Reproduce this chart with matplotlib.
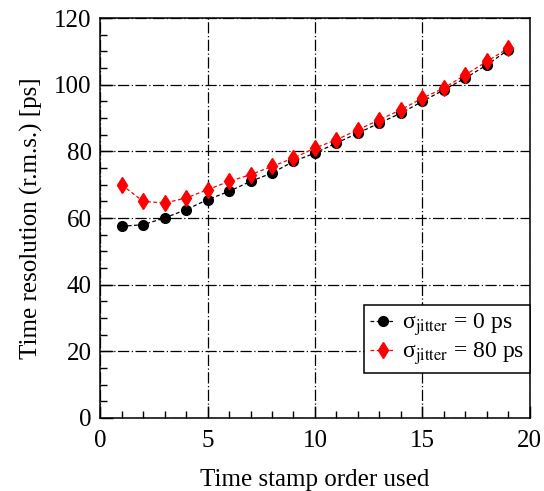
import matplotlib
matplotlib.use("Agg")
import matplotlib.pyplot as plt
from matplotlib.ticker import MultipleLocator

order = [1, 2, 3, 4, 5, 6, 7, 8, 9, 10, 11, 12, 13, 14, 15, 16, 17, 18, 19]
res_0ps = [57.5, 58, 60, 62.5, 65.5, 68, 71, 73.5, 77, 79.5, 82.5, 85.5, 88.5, 91.5, 95, 98.5, 102, 106, 110.5]
res_80ps = [70, 65, 64.5, 66, 68.5, 71, 73, 75.5, 78, 81, 83.5, 86.5, 89.5, 92.5, 96, 99, 103, 107, 111]
labels = ["σ$_{\\rm jitter}$ = 0 ps", "σ$_{\\rm jitter}$ = 80 ps"]

plt.rcParams['font.family'] = ['Liberation Serif', 'DejaVu Serif']
plt.rcParams['mathtext.fontset'] = 'stix'

fig = plt.figure(figsize=(5.44, 4.91), dpi=100)
ax = fig.add_axes([0.184, 0.149, 0.790, 0.814])

ax.plot(order, res_0ps, linestyle=(0, (3, 2)), color='black', lw=0.9,
        marker='o', markersize=7, label=labels[0], zorder=3)
ax.plot(order, res_80ps, linestyle=(0, (3, 2)), color='red', lw=0.9,
        marker='d', markersize=8, label=labels[1], zorder=4)

ax.set_xlim(0, 20)
ax.set_ylim(0, 120)
ax.xaxis.set_major_locator(MultipleLocator(5))
ax.xaxis.set_minor_locator(MultipleLocator(1))
ax.yaxis.set_major_locator(MultipleLocator(20))
ax.yaxis.set_minor_locator(MultipleLocator(5))
ax.tick_params(which='both', direction='in', top=False, right=False, labelsize=18)
ax.tick_params(which='major', length=9, width=1)
ax.tick_params(which='minor', length=5, width=1)
ax.tick_params(axis='x', pad=9)
ax.tick_params(axis='y', pad=6)
ax.grid(True, which='major', color='black', lw=0.9, linestyle=(0, (9, 2, 1, 2)))
ax.set_axisbelow(True)
for s in ax.spines.values():
    s.set_linewidth(1.1)

ax.set_xlabel("Time stamp order used", fontsize=18, labelpad=12)
ax.set_ylabel("Time resolution (r.m.s.) [ps]", fontsize=18, labelpad=8)

leg = ax.legend(loc='lower right', bbox_to_anchor=(1.012, 0.1), fontsize=17,
                frameon=True, fancybox=False, edgecolor='black', framealpha=1,
                handlelength=1.05, handletextpad=0.3, borderpad=0.25, labelspacing=0.1,
                borderaxespad=0.2)
leg.get_frame().set_linewidth(1.1)

fig.savefig("out.png", dpi=100)
